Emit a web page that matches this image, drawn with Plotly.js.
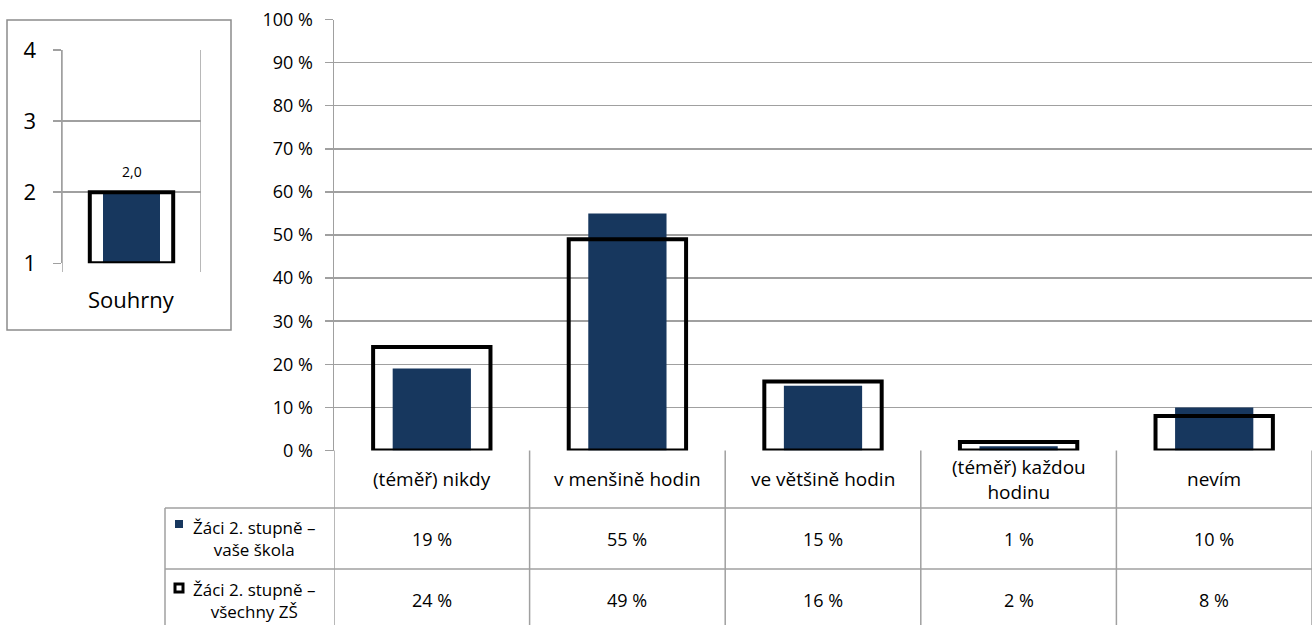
<!DOCTYPE html>
<html>
<head>
<meta charset="utf-8">
<script src="https://cdn.plot.ly/plotly-3.0.1.min.js"></script>
<style>html,body{margin:0;padding:0;background:#fff;}#chart{width:1312px;height:625px;}</style>
</head>
<body>
<div id="chart"></div>
<script>
// ---- data ----
const categories = ["(téměř) nikdy", "v menšině hodin", "ve většině hodin", "(téměř) každou<br>hodinu", "nevím"];
const schoolValues = [19, 55, 15, 1, 10];
const allValues = [24, 49, 16, 2, 8];
const seriesNames = ["Žáci 2. stupně –<br>vaše škola", "Žáci 2. stupně –<br>všechny ZŠ"];
const summaryCategory = ["Souhrny"];
const summarySchool = [2.0];
const summaryAll = [2.0];
const yTickVals = [0, 10, 20, 30, 40, 50, 60, 70, 80, 90, 100];
const yTickText = yTickVals.map(v => v + " %");
const summaryTicks = [1, 2, 3, 4];

// ---- style ----
const NAVY = "#17375E";
const GRID = "#a0a0a0";
const FONT = "'Open Sans', sans-serif";
const FS = 18;
const W = 1312, H = 625;
const px = x => x / W;
const py = y => 1 - y / H;

const traces = [
  { type: "bar", x: categories, y: schoolValues, width: 0.4, marker: { color: NAVY, line: { width: 0 } },
    xaxis: "x", yaxis: "y", hoverinfo: "y", showlegend: false },
  { type: "bar", x: categories, y: allValues, width: 0.6,
    marker: { color: "rgba(0,0,0,0)", line: { color: "#000", width: 4 } },
    xaxis: "x", yaxis: "y", hoverinfo: "y", showlegend: false },
  { type: "bar", x: summaryCategory, y: summarySchool.map(v => v - 1), base: 1, width: 0.41,
    marker: { color: NAVY, line: { width: 0 } }, xaxis: "x2", yaxis: "y2", showlegend: false },
  { type: "bar", x: summaryCategory, y: summaryAll.map(v => v - 1), base: 1, width: 0.6,
    marker: { color: "rgba(0,0,0,0)", line: { color: "#000", width: 4 } }, xaxis: "x2", yaxis: "y2",
    showlegend: false }
];

const shapes = [];
const annotations = [];
const L = { color: GRID, width: 1.5 };

// Table geometry (pixels)
const tableTop = 450.5, rowA = 508, rowB = 569, tableBottom = 625;
const legendLeft = 165;

shapes.push({ type: "line", xref: "paper", yref: "paper", x0: px(legendLeft), x1: 1, y0: py(rowA), y1: py(rowA), line: L });
shapes.push({ type: "line", xref: "paper", yref: "paper", x0: px(legendLeft), x1: 1, y0: py(rowB), y1: py(rowB), line: L });
shapes.push({ type: "line", xref: "paper", yref: "paper", x0: px(legendLeft), x1: px(legendLeft), y0: py(rowA), y1: py(tableBottom), line: L });
for (let i = 0; i <= categories.length; i++) {
  shapes.push({ type: "line", xref: "x", yref: "paper", x0: i - 0.5, x1: i - 0.5, y0: py(tableBottom), y1: py(tableTop), line: L });
}
categories.forEach((c, i) => {
  annotations.push({ xref: "x", yref: "paper", x: c, y: py((tableTop + rowA) / 2), text: c, showarrow: false,
    font: { family: FONT, size: 19, color: "#000" }, align: "center", yanchor: "middle" });
  annotations.push({ xref: "x", yref: "paper", x: c, y: py((rowA + rowB) / 2), text: schoolValues[i] + " %", showarrow: false,
    font: { family: FONT, size: FS, color: "#000" }, yanchor: "middle" });
  annotations.push({ xref: "x", yref: "paper", x: c, y: py((rowB + tableBottom) / 2 + 3), text: allValues[i] + " %", showarrow: false,
    font: { family: FONT, size: FS, color: "#000" }, yanchor: "middle" });
});
annotations.push({ xref: "paper", yref: "paper", x: px(254), y: py((rowA + rowB) / 2), text: seriesNames[0], showarrow: false,
  font: { family: FONT, size: 17, color: "#000" }, align: "center", yanchor: "middle", xanchor: "center" });
annotations.push({ xref: "paper", yref: "paper", x: px(254), y: py((rowB + tableBottom) / 2 + 3), text: seriesNames[1], showarrow: false,
  font: { family: FONT, size: 17, color: "#000" }, align: "center", yanchor: "middle", xanchor: "center" });
shapes.push({ type: "rect", xref: "paper", yref: "paper", x0: px(175), x1: px(183), y0: py(528), y1: py(520), fillcolor: NAVY, line: { width: 0 } });
shapes.push({ type: "rect", xref: "paper", yref: "paper", x0: px(175), x1: px(183), y0: py(592), y1: py(584), fillcolor: "#fff", line: { color: "#000", width: 3 } });

// inset frame
shapes.push({ type: "rect", xref: "paper", yref: "paper", x0: px(7), x1: px(231), y0: py(330), y1: py(20), line: { color: "#8c8c8c", width: 1.5 }, fillcolor: "rgba(0,0,0,0)" });
shapes.push({ type: "line", xref: "x2", yref: "paper", x0: -0.5, x1: -0.5, y0: py(272), y1: py(50), line: L });
shapes.push({ type: "line", xref: "x2", yref: "paper", x0: 0.5, x1: 0.5, y0: py(272), y1: py(50), line: L });
annotations.push({ xref: "x2", yref: "paper", x: summaryCategory[0], y: py(299), text: summaryCategory[0], showarrow: false,
  font: { family: FONT, size: 22, color: "#000" }, yanchor: "middle" });
annotations.push({ xref: "x2", yref: "y2", x: summaryCategory[0], y: summaryAll[0], yshift: 21,
  text: summarySchool[0].toFixed(1).replace(".", ","), showarrow: false,
  font: { family: FONT, size: 14, color: "#000" }, yanchor: "middle" });

const layout = {
  width: W, height: H,
  margin: { l: 0, r: 0, t: 0, b: 0 },
  paper_bgcolor: "#fff", plot_bgcolor: "rgba(0,0,0,0)",
  barmode: "overlay",
  separators: ", ",
  font: { family: FONT, color: "#000" },
  showlegend: false,
  xaxis: { domain: [px(334), 1], range: [-0.5, 4.5], showticklabels: false, showgrid: false, zeroline: false,
    ticks: "", fixedrange: true, type: "category" },
  yaxis: { domain: [py(450.5), py(19.5)], range: [0, 100], tickmode: "array", tickvals: yTickVals, ticktext: yTickText,
    showgrid: true, gridcolor: GRID, gridwidth: 1.5, showline: true, linecolor: GRID, linewidth: 1.5,
    ticks: "outside", ticklen: 8, tickcolor: GRID, tickwidth: 1.5, zeroline: false,
    tickfont: { family: FONT, size: FS, color: "#000" }, ticklabelstandoff: 8 },
  xaxis2: { domain: [px(62), px(201)], range: [-0.5, 0.5], showticklabels: false, showgrid: false, zeroline: false,
    type: "category", anchor: "y2" },
  yaxis2: { domain: [py(263.3), py(50)], range: [1, 4], tickvals: summaryTicks, anchor: "x2",
    showgrid: true, gridcolor: GRID, gridwidth: 1.5, showline: true, linecolor: GRID, linewidth: 1.5,
    ticks: "outside", ticklen: 8, tickcolor: GRID, tickwidth: 1.5, zeroline: false,
    tickfont: { family: FONT, size: 22, color: "#000" }, ticklabelstandoff: 12 },
  shapes: shapes,
  annotations: annotations
};

Plotly.newPlot("chart", traces, layout, { displayModeBar: false, staticPlot: true });
</script>
</body>
</html>
